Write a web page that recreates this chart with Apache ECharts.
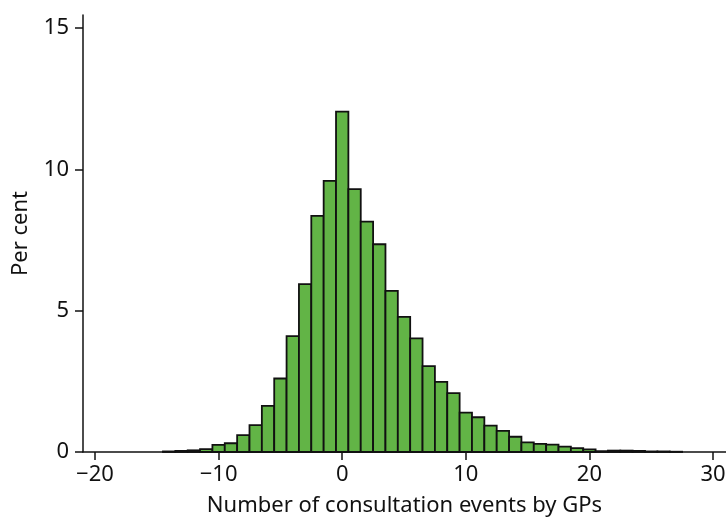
<!DOCTYPE html>
<html lang="en">
<head>
    <meta charset="UTF-8">
    <title>GP consultation events</title>
    <script src="https://cdn.jsdelivr.net/npm/echarts@6/dist/echarts.min.js"></script>
    <style>
        html, body {
            margin: 0;
            padding: 0;
            background: #fff;
        }
        #chart {
            width: 726px;
            height: 519px;
        }
    </style>
</head>
<body>
<div id="chart"></div>
<script>
    // bin centres (width 1) and share of practices in each bin
    var binCentres = [-14, -13, -12, -11, -10, -9, -8, -7, -6, -5, -4, -3, -2, -1,
        0, 1, 2, 3, 4, 5, 6, 7, 8, 9, 10, 11, 12, 13, 14, 15, 16, 17, 18, 19, 20,
        21, 22, 23, 24, 25, 26, 27];
    var percent = [0.02, 0.04, 0.06, 0.1, 0.25, 0.31, 0.6, 0.95, 1.63, 2.6, 4.1, 5.94, 8.35, 9.59,
        12.04, 9.3, 8.15, 7.35, 5.7, 4.78, 4.02, 3.04, 2.48, 2.08, 1.39, 1.23, 0.93, 0.75, 0.54,
        0.34, 0.29, 0.26, 0.19, 0.14, 0.09, 0.03, 0.05, 0.05, 0.04, 0.02, 0.02, 0.01];
    var xTicks = [-20, -10, 0, 10, 20, 30];
    var yTicks = [0, 5, 10, 15];

    var font = 'Noto Sans';
    var ink = '#111';

    var data = binCentres.map(function (c, i) {
        return [c, percent[i]];
    });

    var chart = echarts.init(document.getElementById('chart'));
    chart.setOption({
        animation: false,
        grid: {left: 83, right: 0, top: 15, bottom: 67, outerBoundsMode: 'none'},
        xAxis: {
            type: 'value',
            min: -20.97,
            max: 31.05,
            name: 'Number of consultation events by GPs',
            nameLocation: 'middle',
            nameGap: 43,
            nameTextStyle: {fontFamily: font, fontSize: 22, color: ink},
            splitLine: {show: false},
            axisLine: {lineStyle: {color: ink, width: 1.5}},
            axisTick: {customValues: xTicks, length: 8, lineStyle: {color: ink, width: 1.5}},
            axisLabel: {
                customValues: xTicks,
                margin: 12,
                fontFamily: font,
                fontSize: 22,
                color: ink,
                formatter: function (v) {
                    return String(v).replace('-', '\u2212');
                }
            }
        },
        yAxis: {
            type: 'value',
            min: 0,
            max: 15.46,
            name: 'Per cent',
            nameLocation: 'middle',
            nameGap: 51,
            nameTextStyle: {fontFamily: font, fontSize: 22, color: ink},
            splitLine: {show: false},
            axisLine: {show: true, onZero: false, lineStyle: {color: ink, width: 1.5}},
            axisTick: {show: true, customValues: yTicks, length: 8, lineStyle: {color: ink, width: 1.5}},
            axisLabel: {
                customValues: yTicks,
                margin: 14,
                fontFamily: font,
                fontSize: 22,
                color: ink
            }
        },
        series: [{
            type: 'custom',
            data: data,
            encode: {x: 0, y: 1},
            renderItem: function (params, api) {
                var c = api.value(0);
                var v = api.value(1);
                var p0 = api.coord([c - 0.5, v]);
                var p1 = api.coord([c + 0.5, 0]);
                return {
                    type: 'rect',
                    shape: {x: p0[0], y: p0[1], width: p1[0] - p0[0], height: p1[1] - p0[1]},
                    style: {fill: '#62b446', stroke: '#111', lineWidth: 1.8}
                };
            }
        }]
    });
</script>
</body>
</html>
